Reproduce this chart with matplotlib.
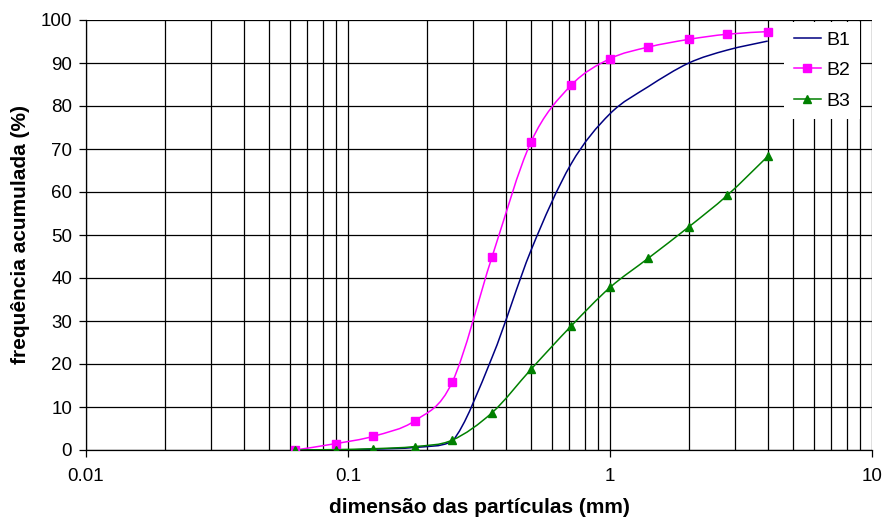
import numpy as np
import matplotlib
matplotlib.use("Agg")
from matplotlib import pyplot as plt
from matplotlib.path import Path
from matplotlib.patches import PathPatch
from matplotlib.lines import Line2D
from matplotlib.ticker import LogLocator, FixedLocator, NullFormatter

plt.rcParams["font.family"] = ["Liberation Sans", "DejaVu Sans"]

# sieve openings (mm)
sieves = [0.063, 0.09, 0.125, 0.18, 0.25, 0.355, 0.5, 0.71, 1.0, 1.4, 2.0, 2.8, 4.0]

# cumulative passing (%)
b1 = [0.0, 0.0, 0.2, 0.6, 2.0, 21.6, 46.5, 66.5, 78.2, 84.5, 90.0, 93.0, 95.1]
b2 = [0.0, 1.5, 3.2, 6.8, 15.8, 45.0, 71.7, 84.8, 91.0, 93.7, 95.5, 96.7, 97.3]
b3 = [0.0, 0.1, 0.3, 0.8, 2.3, 8.7, 18.8, 28.8, 37.8, 44.6, 51.9, 59.2, 68.3]

series_names = ["B1", "B2", "B3"]
y_ticks = [0, 10, 20, 30, 40, 50, 60, 70, 80, 90, 100]
x_ticks = [0.01, 0.1, 1, 10]
x_tick_labels = ["0.01", "0.1", "1", "10"]


def smooth_path(x, y):
    """Catmull-Rom style curve through the points, as cubic Bezier segments
    in (log x, y) space. Control heights are kept inside each segment's
    range so a monotone curve never dips."""
    pts = np.column_stack([np.log10(x), y])
    n = len(pts)
    verts = [pts[0]]
    codes = [Path.MOVETO]
    for i in range(n - 1):
        p0 = pts[max(i - 1, 0)]
        p1 = pts[i]
        p2 = pts[i + 1]
        p3 = pts[min(i + 2, n - 1)]
        c1 = p1 + (p2 - p0) / 6
        c2 = p2 - (p3 - p1) / 6
        lo, hi = min(p1[1], p2[1]), max(p1[1], p2[1])
        c1[1] = np.clip(c1[1], lo, hi)
        c2[1] = np.clip(c2[1], lo, hi)
        verts += [c1, c2, p2]
        codes += [Path.CURVE4] * 3
    verts = np.array(verts)
    verts[:, 0] = 10 ** verts[:, 0]
    return Path(verts, codes)


fig = plt.figure(figsize=(8.84, 5.2), dpi=100)
ax = fig.add_axes([86 / 884, 70 / 520, 786 / 884, 430 / 520])

ax.set_xscale("log")
ax.set_xlim(0.01, 10)
ax.set_ylim(0, 100)

styles = [
    dict(color="#000080", marker=None, ms=0),
    dict(color="#FF00FF", marker="s", ms=5.5),
    dict(color="#008000", marker="^", ms=6),
]
handles = []
for name, vals, st in zip(series_names, [b1, b2, b3], styles):
    ax.add_patch(PathPatch(smooth_path(sieves, vals), fill=False,
                           edgecolor=st["color"], lw=1.1, zorder=3))
    if st["marker"]:
        ax.plot(sieves, vals, ls="none", marker=st["marker"], ms=st["ms"],
                color=st["color"], zorder=4)
    handles.append(Line2D([], [], color=st["color"], lw=1.1,
                          marker=st["marker"], ms=st["ms"]))

# grid: every decade subdivision plus every 10 %
ax.xaxis.set_major_locator(FixedLocator(x_ticks))
ax.xaxis.set_minor_locator(LogLocator(base=10, subs=np.arange(2, 10)))
ax.xaxis.set_minor_formatter(NullFormatter())
ax.set_xticklabels(x_tick_labels)
ax.set_yticks(y_ticks)
ax.grid(True, which="major", color="black", lw=0.9)
ax.grid(True, which="minor", axis="x", color="black", lw=0.9)
ax.set_axisbelow(True)

ax.tick_params(axis="both", which="major", labelsize=13.5, length=5,
               width=0.9, direction="out", pad=5)
ax.tick_params(axis="x", which="minor", length=0)
ax.tick_params(axis="x", which="major", pad=8)

for side in ["top", "right"]:
    ax.spines[side].set_visible(False)
for side in ["left", "bottom"]:
    ax.spines[side].set_linewidth(0.9)

ax.set_xlabel("dimensão das partículas (mm)", fontsize=15, fontweight="bold",
              labelpad=9)
ax.set_ylabel("frequência acumulada (%)", fontsize=15, fontweight="bold",
              labelpad=8)

leg = ax.legend(handles, series_names, loc="upper left",
                bbox_to_anchor=((784 - 86) / 786, 0.996), borderaxespad=0,
                fontsize=14, frameon=True, fancybox=False, framealpha=1,
                edgecolor="none", facecolor="white", handlelength=1.4,
                handletextpad=0.3, labelspacing=0.65, borderpad=0.5)
leg.set_zorder(5)

fig.savefig("out.png", dpi=100)
